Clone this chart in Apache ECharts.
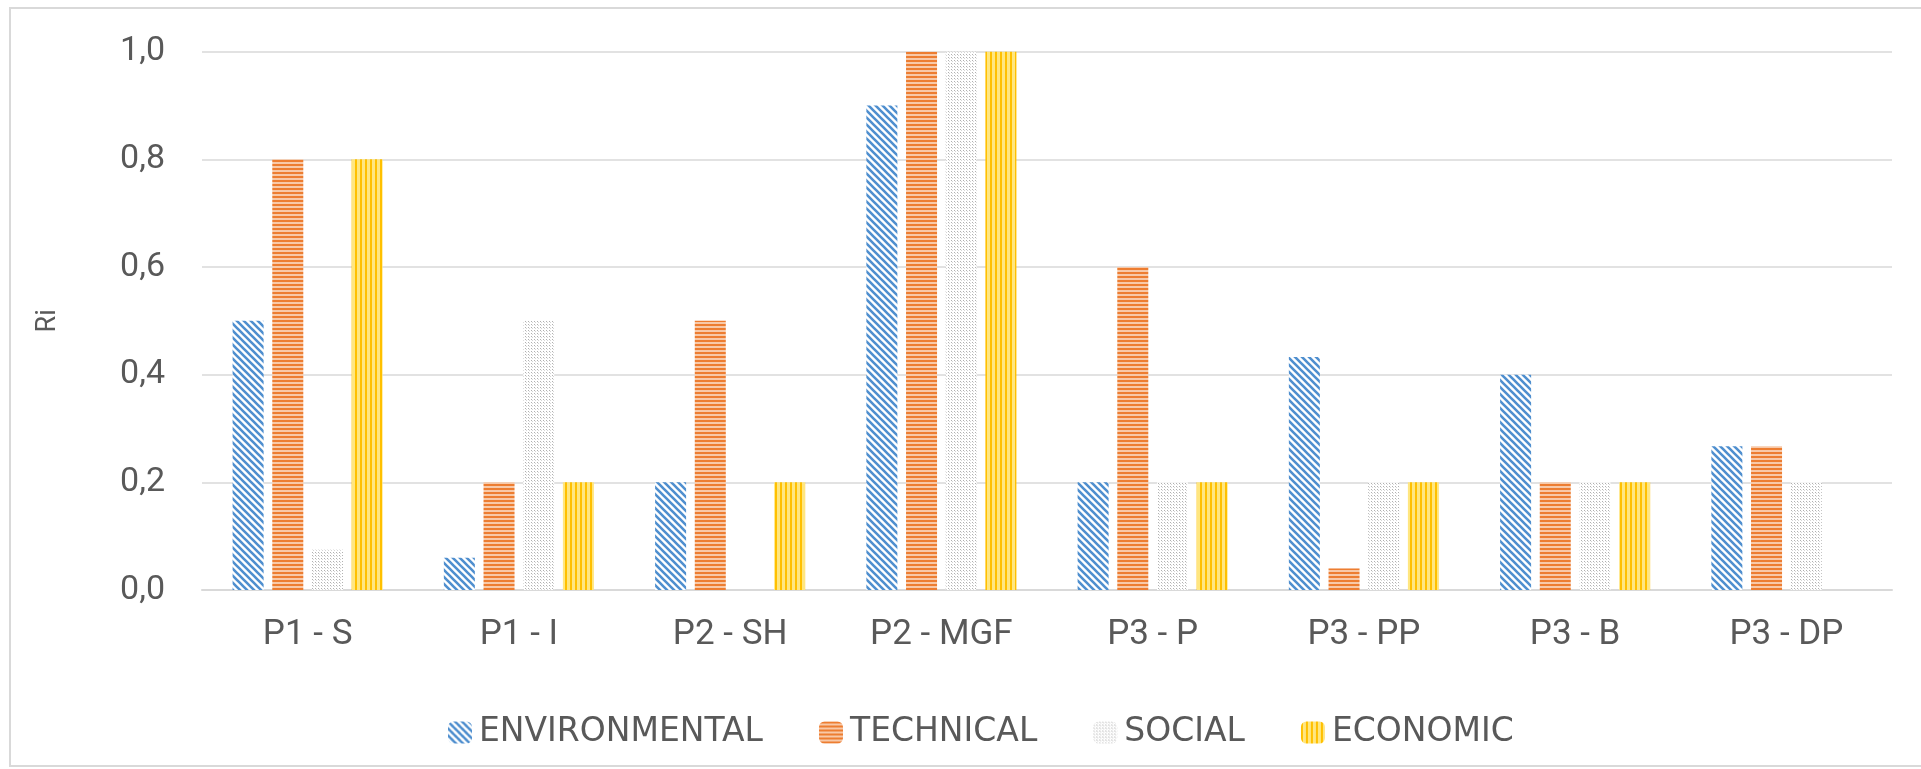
<!DOCTYPE html>
<html>
<head>
<meta charset="utf-8">
<title>Ri</title>
<script src="https://cdn.jsdelivr.net/npm/echarts@6/dist/echarts.min.js"></script>
<style>
  html, body { margin: 0; padding: 0; background: #fff; }
  #chart { width: 1921px; height: 769px; }
</style>
</head>
<body>
<div id="chart"></div>
<script>
// data
var categories = ['P1 - S', 'P1 - I', 'P2 - SH', 'P2 - MGF', 'P3 - P', 'P3 - PP', 'P3 - B', 'P3 - DP'];
var seriesNames = ['ENVIRONMENTAL', 'TECHNICAL', 'SOCIAL', 'ECONOMIC'];
var environmental = [0.5, 0.06, 0.2, 0.9, 0.2, 0.433, 0.4, 0.267];
var technical = [0.8, 0.2, 0.5, 1.0, 0.6, 0.04, 0.2, 0.267];
var social = [0.075, 0.5, 0, 1.0, 0.2, 0.2, 0.2, 0.2];
var economic = [0.8, 0.2, 0.2, 1.0, 0.2, 0.2, 0.2, 0];

// hatch fills, drawn on small canvases
function makePattern(kind) {
    var c = document.createElement('canvas');
    var ctx = c.getContext('2d');
    if (kind === 'diag') {
        c.width = 7; c.height = 7;
        ctx.fillStyle = '#ffffff';
        ctx.fillRect(0, 0, 7, 7);
        ctx.strokeStyle = '#4f8fcf';
        ctx.lineWidth = 2.6;
        ctx.beginPath();
        ctx.moveTo(-7, -7); ctx.lineTo(14, 14);
        ctx.moveTo(-7, 0); ctx.lineTo(7, 14);
        ctx.moveTo(0, -7); ctx.lineTo(14, 7);
        ctx.stroke();
    } else if (kind === 'horiz') {
        c.width = 4; c.height = 4;
        ctx.fillStyle = '#f8c9a8';
        ctx.fillRect(0, 0, 4, 4);
        ctx.fillStyle = '#ed7d31';
        ctx.fillRect(0, 0, 4, 2);
    } else if (kind === 'dots') {
        c.width = 3; c.height = 3;
        ctx.fillStyle = '#ffffff';
        ctx.fillRect(0, 0, 3, 3);
        ctx.fillStyle = '#b0b0b0';
        ctx.fillRect(0, 0, 1, 1);
        ctx.fillStyle = '#d6d6d6';
        ctx.fillRect(1, 1, 1, 1);
    } else {
        c.width = 5; c.height = 5;
        ctx.fillStyle = '#ffe680';
        ctx.fillRect(0, 0, 5, 5);
        ctx.fillStyle = '#ffc000';
        ctx.fillRect(0, 0, 2, 5);
    }
    return { image: c, repeat: 'repeat' };
}

var fills = [makePattern('diag'), makePattern('horiz'), makePattern('dots'), makePattern('vert')];
var allData = [environmental, technical, social, economic];

var chart = echarts.init(document.getElementById('chart'));

var series = seriesNames.map(function (name, i) {
    return {
        name: name,
        type: 'bar',
        data: allData[i],
        barWidth: 31,
        barGap: '28%',
        itemStyle: { color: fills[i] }
    };
});

var option = {
    animation: false,
    backgroundColor: '#ffffff',
    textStyle: { fontFamily: 'Roboto' },
    graphic: [{
        type: 'rect',
        shape: { x: 10, y: 8, width: 1920, height: 758 },
        style: { fill: 'none', stroke: '#d9d9d9', lineWidth: 2 },
        silent: true
    }],
    grid: { left: 202, right: 29, top: 51.7, bottom: 179 },
    legend: {
        data: seriesNames,
        left: 443,
        top: 711,
        itemWidth: 24,
        itemHeight: 22,
        itemGap: 56,
        textStyle: { color: '#595959', fontSize: 33, fontFamily: 'DejaVu Sans', padding: [0, 0, 0, 2] }
    },
    xAxis: {
        type: 'category',
        data: categories,
        axisLine: { lineStyle: { color: '#d9d9d9', width: 2 } },
        axisTick: { show: false },
        axisLabel: { color: '#595959', fontSize: 35, margin: 28 }
    },
    yAxis: {
        type: 'value',
        min: 0,
        max: 1,
        interval: 0.2,
        name: 'Ri',
        nameLocation: 'middle',
        nameGap: 140,
        nameTextStyle: { color: '#595959', fontSize: 27 },
        axisLabel: {
            color: '#595959',
            fontSize: 34,
            margin: 37,
            formatter: function (v) { return v.toFixed(1).replace('.', ','); }
        },
        splitLine: { lineStyle: { color: '#d9d9d9', width: 1.5 } }
    },
    series: series
};
chart.setOption(option);
</script>
</body>
</html>
